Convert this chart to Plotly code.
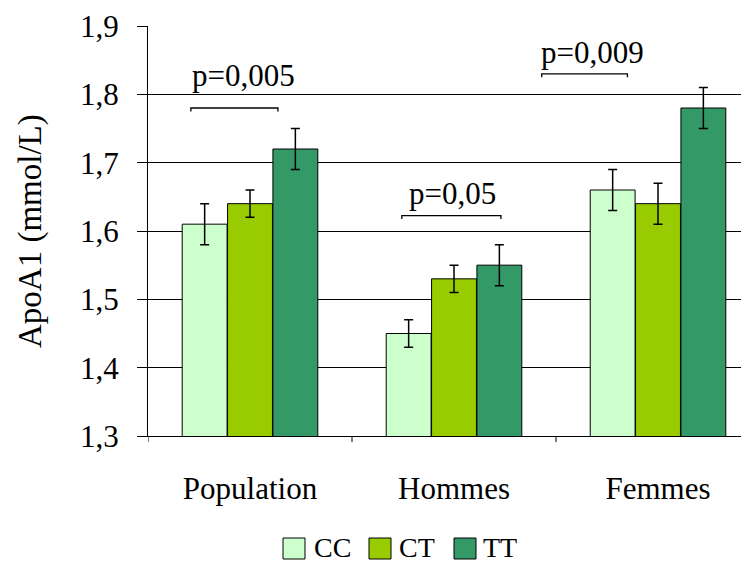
import plotly.graph_objects as go

categories = ["Population", "Hommes", "Femmes"]
genotypes = ["CC", "CT", "TT"]
cc_values = [1.61, 1.45, 1.66]
ct_values = [1.64, 1.53, 1.64]
tt_values = [1.72, 1.55, 1.78]
cc_err = [0.03, 0.02, 0.03]
ct_err = [0.02, 0.02, 0.03]
tt_err = [0.03, 0.03, 0.03]
colors = ["#CCFFCC", "#99CC00", "#339966"]
y_ticks = [1.3, 1.4, 1.5, 1.6, 1.7, 1.8, 1.9]
y_tick_text = ["1,3", "1,4", "1,5", "1,6", "1,7", "1,8", "1,9"]

# significance brackets: (x0, x1, y, label, label_x, label_y)
brackets = [
    (-0.29, 0.137, 1.78, "p=0,005", -0.034, 1.827),
    (0.744, 1.23, 1.6225, "p=0,05", 0.993, 1.655),
    (1.43, 1.85, 1.83, "p=0,009", 1.681, 1.861),
]

FONT = "Liberation Serif"
FS = 31
# page offset of 8px (browser default body margin)
L, T, PW, PH = 140, 18, 601, 410


def px(X):
    return (X - 8 - L) / PW


def py(Y):
    return 1 - (Y - 8 - T) / PH


fig = go.Figure()
for name, vals, errs, col in zip(genotypes, [cc_values, ct_values, tt_values],
                                 [cc_err, ct_err, tt_err], colors):
    fig.add_trace(go.Bar(
        name=name, x=[0, 1, 2], y=vals, showlegend=False,
        marker=dict(color=col, line=dict(color="black", width=1)),
        error_y=dict(type="data", array=errs, color="black", thickness=1.5, width=4.5),
        width=0.22,
    ))

shapes = []
annotations = []
for x0, x1, y, label, lx, ly in brackets:
    dy = 0.005
    shapes.append(dict(type="path", xref="x", yref="y",
                       path=f"M {x0},{y-dy} L {x0},{y} L {x1},{y} L {x1},{y-dy}",
                       line=dict(color="black", width=1.3)))
    annotations.append(dict(x=lx, y=ly, xref="x", yref="y", text=label,
                            showarrow=False, font=dict(family=FONT, size=FS, color="black")))

# category boundary ticks on x axis
for xb in [-0.5, 0.5, 1.5]:
    shapes.append(dict(type="line", xref="x", yref="paper", x0=xb, x1=xb, y0=0, y1=-0.015,
                       line=dict(color="black", width=1)))

# y-axis title
annotations.append(dict(x=px(30), y=0.5, xref="paper", yref="paper", text="ApoA1 (mmol/L)",
                        textangle=-90, showarrow=False, xanchor="center", yanchor="middle",
                        font=dict(family=FONT, size=33, color="black")))

# custom legend
legend_sq = [(283, 305), (369, 391), (454, 476)]
legend_txt_x = [312, 397, 481]
for (a, b), tx, name, col in zip(legend_sq, legend_txt_x, genotypes, colors):
    shapes.append(dict(type="rect", xref="paper", yref="paper", x0=px(a), x1=px(b),
                       y0=py(559), y1=py(538), fillcolor=col, line=dict(color="black", width=1)))
    annotations.append(dict(x=px(tx), y=py(547), xref="paper", yref="paper", text=name,
                            showarrow=False, xanchor="left", yanchor="middle",
                            font=dict(family=FONT, size=28, color="black")))

fig.update_layout(
    width=741, height=554,
    barmode="group", bargap=0.333, bargroupgap=0,
    plot_bgcolor="white", paper_bgcolor="white",
    margin=dict(l=L, r=0, t=T, b=554 - T - PH, autoexpand=False),
    font=dict(family=FONT, size=FS, color="black"),
    shapes=shapes, annotations=annotations,
    showlegend=False,
    xaxis=dict(range=[-0.5, 2.446], tickvals=[0, 1, 2], ticktext=categories,
               showline=True, linecolor="black", linewidth=1,
               ticks="", showgrid=False, zeroline=False,
               tickfont=dict(family=FONT, size=FS), ticklabelstandoff=25),
    yaxis=dict(range=[1.3, 1.9], tickvals=y_ticks, ticktext=y_tick_text,
               showline=True, linecolor="black", linewidth=1,
               ticks="outside", ticklen=10, tickcolor="black",
               showgrid=True, gridcolor="black", gridwidth=1, zeroline=False,
               tickfont=dict(family=FONT, size=FS), ticklabelstandoff=12),
)

fig.write_html("out.html")
